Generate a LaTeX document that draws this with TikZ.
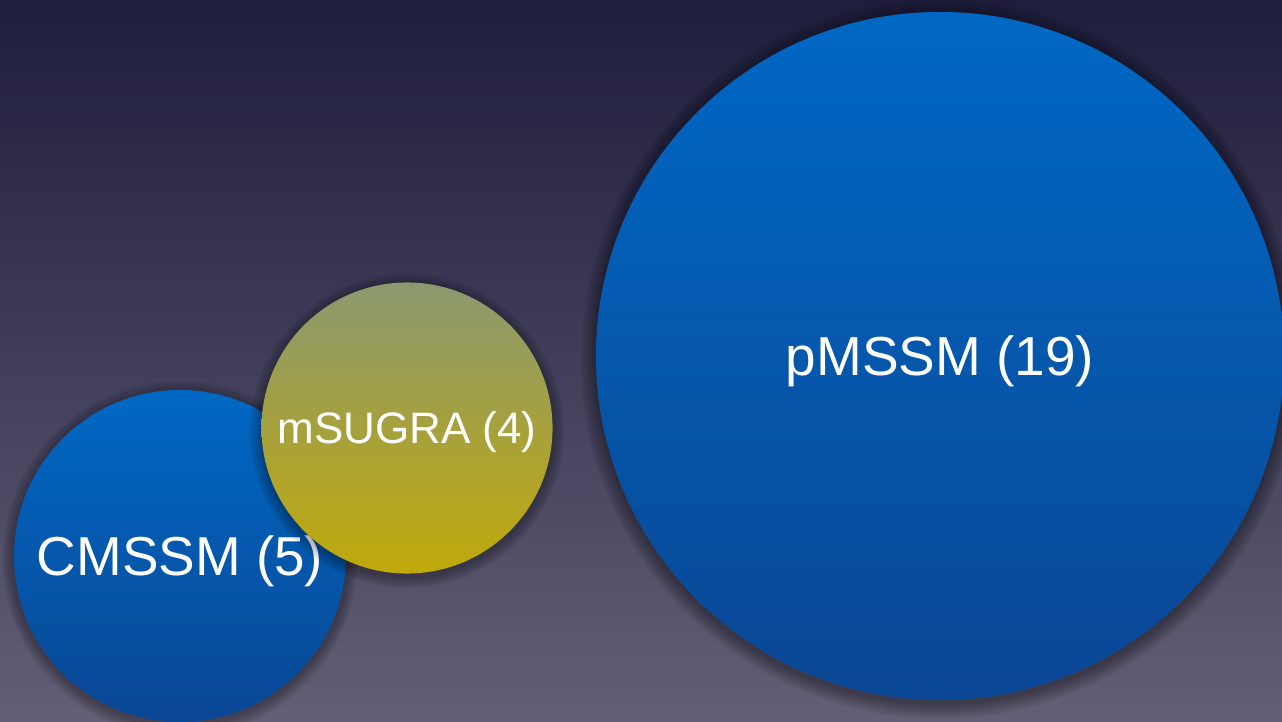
\documentclass[tikz,border=0pt]{standalone}
\usepackage{fontspec}
\setmainfont{Liberation Sans}
\definecolor{bgtop}{HTML}{1E1D3C}
\definecolor{bgbot}{HTML}{625F76}
\definecolor{bluetop}{HTML}{0068C4}
\definecolor{bluebot}{HTML}{0A4794}
\definecolor{goldtop}{HTML}{8B9970}
\definecolor{goldbot}{HTML}{C1A90A}
\tikzset{
  model/.style={circle,inner sep=0pt,text=white,text depth=0pt},
  bluemodel/.style={model,top color=bluetop,bottom color=bluebot},
  goldmodel/.style={model,top color=goldtop,bottom color=goldbot},
  halo/.style={fill=black,opacity=0.03},
}
\begin{document}
\begin{tikzpicture}[x=0.025cm,y=-0.025cm]
    \useasboundingbox (0,0) rectangle (1282,722);
    \clip (0,0) rectangle (1282,722);
    % background
    \shade[top color=bgtop,bottom color=bgbot] (0,0) rectangle (1282,722);
    % CMSSM
    \foreach \i in {1,...,10}
        \fill[halo] (180,559) circle ({166+\i*1.2});
    \node[bluemodel,minimum size=8.3cm,font=\fontsize{39}{46}\selectfont] (cmssm) at (180,556) {CMSSM (5)};
    % mSUGRA
    \foreach \i in {1,...,10}
        \fill[halo] (407,431) circle ({145.5+\i*1.2});
    \node[goldmodel,minimum size=7.275cm,font=\fontsize{31.3}{37}\selectfont] (msugra) at (407,428) {mSUGRA (4)};
    % pMSSM
    \foreach \i in {1,...,12}
        \fill[halo] (940,359) circle ({344+\i*1.3});
    \node[bluemodel,minimum size=17.2cm,font=\fontsize{39.1}{46}\selectfont] (pmssm) at (940,356) {pMSSM (19)};
\end{tikzpicture}
\end{document}
